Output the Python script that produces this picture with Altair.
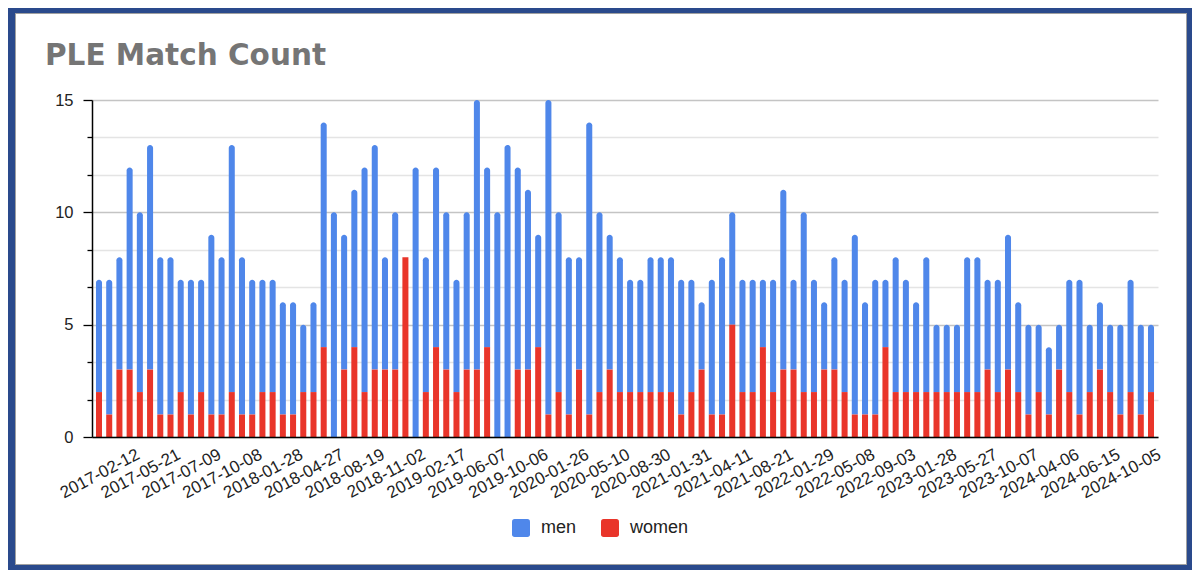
import altair as alt
import pandas as pd

TITLE = "PLE Match Count"

# tick labels shown under every 4th bar
x_labels = ["2017-02-12", "2017-05-21", "2017-07-09", "2017-10-08", "2018-01-28",
            "2018-04-27", "2018-08-19", "2018-11-02", "2019-02-17", "2019-06-07",
            "2019-10-06", "2020-01-26", "2020-05-10", "2020-08-30", "2021-01-31",
            "2021-04-11", "2021-08-21", "2022-01-29", "2022-05-08", "2022-09-03",
            "2023-01-28", "2023-05-27", "2023-10-07", "2024-04-06", "2024-06-15",
            "2024-10-05"]

men = [5, 6, 5, 9, 8, 10, 7, 7, 5, 6,
       5, 8, 7, 11, 7, 6, 5, 5, 5, 5,
       3, 4, 10, 10, 6, 7, 10, 10, 5, 7,
       0, 12, 6, 8, 7, 5, 7, 12, 8, 10,
       13, 9, 8, 5, 14, 8, 7, 5, 13, 8,
       6, 6, 5, 5, 6, 6, 6, 6, 5, 3,
       6, 7, 5, 5, 5, 3, 5, 8, 4, 8,
       5, 3, 5, 5, 8, 5, 6, 3, 6, 5,
       4, 6, 3, 3, 3, 6, 6, 4, 5, 6,
       4, 4, 3, 3, 2, 5, 6, 3, 3, 3,
       4, 5, 4, 3]

women = [2, 1, 3, 3, 2, 3, 1, 1, 2, 1,
         2, 1, 1, 2, 1, 1, 2, 2, 1, 1,
         2, 2, 4, 0, 3, 4, 2, 3, 3, 3,
         8, 0, 2, 4, 3, 2, 3, 3, 4, 0,
         0, 3, 3, 4, 1, 2, 1, 3, 1, 2,
         3, 2, 2, 2, 2, 2, 2, 1, 2, 3,
         1, 1, 5, 2, 2, 4, 2, 3, 3, 2,
         2, 3, 3, 2, 1, 1, 1, 4, 2, 2,
         2, 2, 2, 2, 2, 2, 2, 3, 2, 3,
         2, 1, 2, 1, 3, 2, 1, 2, 3, 2,
         1, 2, 1, 2]

series = ["men", "women"]
colors = ["#4f87ea", "#e9352a"]

y_ticks = [0, 5 / 3, 10 / 3, 5, 20 / 3, 25 / 3, 10, 35 / 3, 40 / 3, 15]

df = pd.DataFrame({"idx": list(range(len(men))), "men": men, "women": women})

W, H = 1066, 337
PAD = {"left": 84, "top": 92, "right": 34, "bottom": 133}

label_arr = "[" + ",".join("'%s'" % s for s in x_labels) + "]"
x_values = [4 * i + 3 for i in range(len(x_labels))]

x_enc = alt.X(
    "idx:O",
    scale=alt.Scale(paddingInner=0.41, paddingOuter=0.39),
    axis=alt.Axis(
        values=x_values,
        labelExpr=label_arr + "[floor(datum.value / 4)]",
        labelAngle=332,
        labelAlign="right",
        labelBaseline="top",
        labelPadding=9,
        labelOffset=5,
        labelFontSize=17,
        labelColor="#222222",
        labelOverlap=False,
        labelBound=False,
        ticks=False,
        grid=False,
        domainColor="#000000",
        domainWidth=1.5,
        title=None,
        zindex=1,
    ),
)

y_scale = alt.Scale(domain=[0, 15], nice=False, zero=True)

rounded = "M-1,-0.7 Q-1,-1 -0.7,-1 L0.7,-1 Q1,-1 1,-0.7 L1,0.7 Q1,1 0.7,1 L-0.7,1 Q-1,1 -1,0.7 Z"

color_enc = alt.Color(
    "series:N",
    scale=alt.Scale(domain=series, range=colors),
    legend=alt.Legend(
        orient="none",
        legendX=420,
        legendY=419,
        direction="horizontal",
        title=None,
        symbolType=rounded,
        symbolSize=324,
        symbolStrokeWidth=0,
        symbolOpacity=1,
        labelFontSize=18,
        labelColor="#222222",
        labelOffset=11,
        columnPadding=24,
        padding=0,
    ),
)

base = alt.Chart(df)

men_bars = base.mark_bar(cornerRadiusTopLeft=3, cornerRadiusTopRight=3).transform_calculate(
    top="datum.women + datum.men", series="'men'"
).encode(
    x=x_enc,
    y=alt.Y(
        "top:Q",
        scale=y_scale,
        axis=alt.Axis(
            values=y_ticks,
            tickCount=30,
            labelExpr="datum.value % 5 === 0 ? format(datum.value, 'd') : ''",
            labelOverlap=False,
            labelBound=False,
            labelFontSize=16.5,
            labelColor="#222222",
            labelPadding=10,
            tickSize={"condition": {"test": "datum.value % 5 !== 0", "value": 5}, "value": 9},
            tickColor="#000000",
            tickWidth=1.3,
            domainColor="#000000",
            domainWidth=1.5,
            gridColor={"condition": {"test": "datum.value % 5 === 0", "value": "#c4c4c4"}, "value": "#e4e4e4"},
            gridWidth=1.5,
            title=None,
        ),
    ),
    y2="women:Q",
    color=color_enc,
)

women_bars = base.mark_bar().transform_calculate(series="'women'").encode(
    x=alt.X("idx:O"),
    y=alt.Y("women:Q", scale=y_scale),
    color=alt.Color("series:N"),
)

one = alt.Data(values=[{"k": 1}])

panel_edge = alt.Chart(one).mark_rect(fillOpacity=0, stroke="#a0a0a0", strokeWidth=2).encode(
    x=alt.value(-77), x2=alt.value(1095), y=alt.value(-87), y2=alt.value(465)
)
frame = alt.Chart(one).mark_rect(fillOpacity=0, stroke="#2a4a8c", strokeWidth=12).encode(
    x=alt.value(-83), x2=alt.value(1101), y=alt.value(-93), y2=alt.value(471)
)
title = alt.Chart(one).mark_text(
    font="DejaVu Sans", fontWeight="bold", fontSize=29.5, color="#757575",
    align="left", baseline="alphabetic"
).encode(x=alt.value(-47), y=alt.value(-35), text=alt.value(TITLE))

chart = alt.layer(panel_edge, frame, title, men_bars, women_bars).properties(
    width=W,
    height=H,
    autosize=alt.AutoSizeParams(type="none"),
    padding=PAD,
).configure(
    background="#ffffff",
    font="Liberation Sans",
).configure_view(strokeWidth=0)

chart.save("out.html", embed_options={"renderer": "svg", "actions": False})
